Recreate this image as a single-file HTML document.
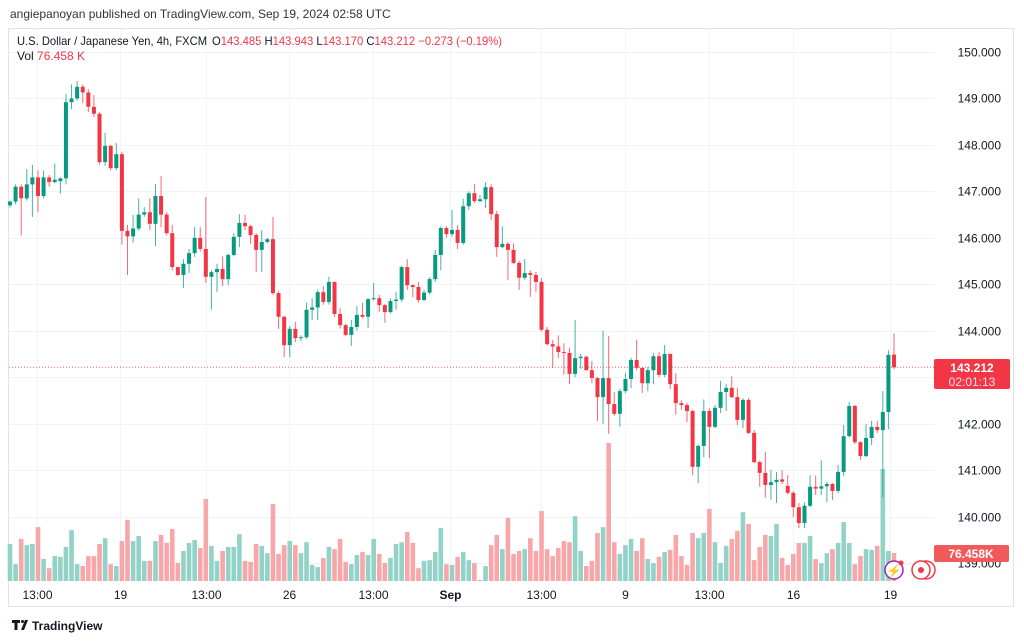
<!DOCTYPE html>
<html><head><meta charset="utf-8"><style>
html,body{margin:0;padding:0;background:#fff;width:1024px;height:641px;overflow:hidden;font-family:"Liberation Sans",sans-serif}
svg{display:block}
</style></head><body>
<svg id="chart" width="1024" height="641" viewBox="0 0 1024 641" xmlns="http://www.w3.org/2000/svg" font-family="Liberation Sans, sans-serif">
  <text x="10" y="18" font-size="12" fill="#333">angiepanoyan published on TradingView.com, Sep 19, 2024 02:58 UTC</text>
  <rect x="8.5" y="28.5" width="1005" height="578" fill="none" stroke="#e0e3eb"/>
  <g id="grid"></g>
  <g id="vol"></g>
  <g id="candles"></g>
  <g id="axes"></g>
  <g font-size="12">
    <text x="17" y="45" fill="#131722" textLength="190" lengthAdjust="spacingAndGlyphs">U.S. Dollar / Japanese Yen, 4h, FXCM</text>
    <text x="212" y="45" fill="#f23645" textLength="290" lengthAdjust="spacingAndGlyphs"><tspan fill="#131722">O</tspan>143.485  <tspan fill="#131722">H</tspan>143.943  <tspan fill="#131722">L</tspan>143.170  <tspan fill="#131722">C</tspan>143.212  −0.273 (−0.19%)</text>
    <text x="17" y="60" fill="#131722">Vol <tspan fill="#f23645">76.458 K</tspan></text>
  </g>
  <g>
    <rect x="934" y="359" width="76" height="30" rx="2" fill="#f23645"/>
    <text x="972" y="372" font-size="12" fill="#fff" text-anchor="middle" font-weight="bold">143.212</text>
    <text x="972" y="386" font-size="12" fill="#fde" text-anchor="middle">02:01:13</text>
  </g>
  <g>
    <rect x="934" y="545" width="75" height="17" rx="2" fill="#f05a5a"/>
    <text x="971" y="558" font-size="12" fill="#fff" text-anchor="middle" font-weight="bold">76.458K</text>
  </g>
  <g>
    <circle cx="894" cy="570" r="9" fill="#fff" stroke="#9c27b0" stroke-width="1.5"/>
    <text x="894" y="575" font-size="12" fill="#9c27b0" text-anchor="middle">⚡</text>
    <circle cx="901" cy="563" r="2.5" fill="#f23645"/>
  </g>
  <g>
    <circle cx="926" cy="570" r="9" fill="#fff" stroke="#f23645" stroke-width="1.5"/>
    <circle cx="921" cy="570" r="9" fill="#fff" stroke="#f23645" stroke-width="1.5"/>
    <circle cx="921" cy="570" r="3" fill="#f23645"/>
  </g>
  <g>
    <path d="M12 620h8v3h-2.5v7h-3v-7H12z M21 630l4-10h3l-4 10z" fill="#131722"/>
    <circle cx="22.5" cy="621.5" r="1.5" fill="#131722"/>
    <text x="32" y="630" font-size="12" font-weight="bold" fill="#131722">TradingView</text>
  </g>
</svg>
<script>
var opens=[146.70,146.78,147.10,146.85,147.15,147.30,146.90,147.30,147.20,147.22,147.28,148.92,149.00,149.25,149.13,148.82,148.67,147.63,147.98,147.50,147.80,146.15,146.03,146.20,146.50,146.55,146.30,146.90,146.50,146.10,145.37,145.20,145.44,145.67,146.00,145.76,145.16,145.26,145.33,145.11,145.63,146.02,146.32,146.25,146.06,145.74,145.91,145.97,144.81,144.30,143.69,144.04,143.84,143.86,144.45,144.50,144.83,144.62,145.05,144.36,144.12,143.91,144.08,144.34,144.30,144.68,144.70,144.55,144.40,144.64,144.67,145.37,144.98,144.94,144.66,144.82,145.11,145.63,146.21,146.08,146.17,145.89,146.68,146.96,146.79,146.83,147.09,146.51,145.80,145.87,145.74,145.46,145.14,145.24,145.20,145.05,144.02,143.71,143.66,143.54,143.52,143.07,143.41,143.44,143.15,142.98,142.57,142.98,142.42,142.21,142.70,142.96,143.37,143.20,142.87,143.15,143.45,143.05,143.50,142.85,142.44,142.40,142.27,141.07,141.52,142.27,141.93,142.34,142.68,142.77,142.57,142.08,142.51,141.80,141.17,140.94,140.68,140.74,140.80,140.66,140.51,140.20,139.86,140.23,140.64,140.60,140.65,140.70,140.55,140.96,141.73,142.38,141.60,141.30,141.69,141.93,141.86,142.25,143.485];
var highs=[146.80,147.15,147.15,147.48,147.57,147.45,147.45,147.35,147.60,147.30,149.10,149.30,149.38,149.30,149.20,149.07,148.70,148.26,148.00,148.04,147.85,146.28,146.49,146.85,146.66,146.85,147.16,147.33,146.55,146.28,145.37,145.54,145.76,146.23,146.23,146.88,145.30,145.44,145.60,145.66,146.10,146.51,146.50,146.28,146.10,146.17,146.00,146.45,144.85,144.32,144.10,144.19,143.90,144.60,144.70,144.88,144.96,145.16,145.06,144.49,144.15,144.23,144.53,144.60,144.70,145.03,144.77,144.58,144.70,144.83,145.40,145.54,145.00,145.05,144.88,145.15,145.74,146.25,146.25,146.60,146.27,146.84,147.00,147.16,146.92,147.20,147.15,146.58,146.25,145.91,145.88,145.50,145.54,145.30,145.26,145.13,144.08,143.80,143.90,143.73,143.63,144.23,143.50,143.46,143.35,143.00,144.00,143.89,142.68,142.75,143.09,143.42,143.80,143.20,143.22,143.52,143.54,143.69,143.50,143.09,142.50,142.45,142.30,141.55,142.52,142.33,142.40,142.92,142.85,143.02,142.77,142.55,142.55,141.86,141.20,141.39,141.00,140.96,141.00,140.89,140.55,140.29,140.30,140.89,140.88,141.21,140.75,140.72,141.11,141.97,142.47,142.40,141.62,141.99,142.06,142.06,142.70,143.58,143.943];
var lows=[146.65,146.72,146.05,146.80,146.45,146.55,146.85,147.10,147.18,146.95,147.15,148.77,148.95,148.90,148.71,148.60,147.58,147.55,147.45,147.45,145.85,145.20,145.90,146.15,146.45,146.17,145.82,146.23,146.05,145.30,145.18,144.92,145.24,145.59,145.70,145.03,144.45,144.83,144.96,144.98,145.60,145.80,146.17,145.87,145.26,145.26,145.88,144.77,144.04,143.43,143.43,143.75,143.78,143.82,144.23,144.23,144.56,144.56,144.30,144.05,143.88,143.67,144.00,144.27,144.06,144.65,144.40,144.17,144.37,144.45,144.62,144.88,144.72,144.60,144.64,144.78,145.05,145.30,146.00,146.02,145.76,145.85,146.60,146.75,146.77,146.64,146.38,145.59,145.78,145.09,145.43,144.88,145.10,144.73,144.84,143.98,143.68,143.20,143.41,143.05,142.85,143.00,143.18,143.14,142.87,142.06,141.99,141.78,142.17,141.93,142.65,142.77,143.15,142.66,142.70,142.85,143.00,143.00,142.74,142.19,142.30,142.03,140.89,140.72,141.28,141.26,141.90,142.23,142.27,142.55,141.97,141.90,141.78,141.15,140.64,140.40,140.36,140.29,140.70,140.48,139.99,139.75,139.75,140.20,140.46,140.46,140.31,140.36,140.50,140.87,141.70,141.56,141.22,141.28,141.54,141.80,140.42,141.88,143.170];
var closes=[146.78,147.10,146.85,147.15,147.30,146.90,147.30,147.20,147.25,147.28,148.92,149.00,149.25,149.13,148.82,148.67,147.63,147.98,147.50,147.80,146.15,146.03,146.20,146.50,146.55,146.30,146.90,146.50,146.10,145.37,145.20,145.44,145.67,146.00,145.76,145.16,145.26,145.33,145.11,145.63,146.02,146.32,146.25,146.06,145.74,145.91,145.97,144.81,144.30,143.69,144.04,143.84,143.86,144.45,144.50,144.83,144.62,145.05,144.36,144.12,143.91,144.08,144.34,144.30,144.68,144.70,144.55,144.40,144.64,144.67,145.37,144.98,144.94,144.66,144.82,145.11,145.63,146.21,146.08,146.17,145.89,146.68,146.96,146.79,146.83,147.09,146.51,145.80,145.87,145.74,145.46,145.14,145.24,145.20,145.05,144.02,143.71,143.66,143.54,143.52,143.07,143.41,143.44,143.15,142.98,142.57,142.98,142.42,142.21,142.70,142.96,143.37,143.20,142.87,143.15,143.45,143.05,143.50,142.85,142.44,142.40,142.27,141.07,141.52,142.27,141.93,142.34,142.68,142.77,142.57,142.08,142.51,141.80,141.17,140.94,140.68,140.74,140.79,140.75,140.51,140.20,139.86,140.23,140.64,140.60,140.65,140.70,140.55,140.96,141.73,142.38,141.60,141.30,141.69,141.93,141.86,142.25,143.48,143.212];
var volumesK=[101,46,115,98,101,147,60,35,68,66,93,139,46,41,68,68,101,117,46,41,109,167,109,123,55,55,109,126,104,142,49,82,104,112,90,224,96,55,82,93,93,128,55,52,101,96,76,210,74,98,109,98,76,106,44,38,63,93,87,115,52,46,71,79,71,115,74,49,63,101,106,134,104,35,55,57,79,145,46,44,66,79,57,49,3,41,98,126,87,172,74,82,87,117,82,191,87,68,90,109,106,177,82,41,55,131,147,377,106,74,98,115,82,117,60,49,66,79,85,126,68,44,131,117,131,197,106,49,96,115,137,188,156,57,93,126,123,156,63,44,74,104,104,123,60,49,76,87,104,161,104,46,68,87,85,96,306,82,76.458];
var priceTicks=[150,149,148,147,146,145,144,143,142,141,140,139];
var timeLabels=["13:00","19","13:00","26","13:00","Sep","13:00","9","13:00","16","19"];
var timeLabelIdx=[4.8,19.6,35,49.9,64.9,78.6,94.9,109.9,124.9,139.9,157.2];
var lastPrice=143.212;

var NS="http://www.w3.org/2000/svg";
function yP(p){return 52+(150-p)*46.45;}
function xI(i){return 10+5.595*i;}
function yV(v){return 581-v/76.458*28;}
function mk(tag,attrs,parent){var e=document.createElementNS(NS,tag);for(var k in attrs)e.setAttribute(k,attrs[k]);parent.appendChild(e);return e;}
var grid=document.getElementById('grid'),vol=document.getElementById('vol'),cg=document.getElementById('candles'),ax=document.getElementById('axes');
priceTicks.forEach(function(p){
  var y=Math.round(yP(p))+0.5;
  var l=mk('line',{x1:9,x2:935,y1:y,y2:y,stroke:'#f0f3fa'},grid);
  
  
  var t=mk('text',{x:1001,y:y+4,'font-size':12,fill:'#131722','text-anchor':'end'},ax);
  t.textContent=p.toFixed(3);
  
  
});
timeLabels.forEach(function(s,k){
  var x=Math.round(xI(timeLabelIdx[k]))+0.5;
  var l=mk('line',{x1:x,x2:x,y1:29,y2:583,stroke:'#f0f3fa'},grid);
  
  
  var t=mk('text',{x:x,y:599,'font-size':12,fill:'#131722','text-anchor':'middle','font-weight':s==='Sep'?'bold':'normal'},ax);
  t.textContent=s;
  
  
});
var ly=yP(lastPrice);
var dl=mk('line',{x1:9,x2:934,y1:ly,y2:ly,stroke:'#f23645','stroke-width':1,'stroke-dasharray':'1 2',opacity:0.8},grid);


(function(){
for(var i=0;i<closes.length;i++){
  var up=closes[i]>=opens[i];
  var x=xI(i);
  var vb=mk('rect',{x:x-2.3,y:yV(volumesK[i]),width:4.6,height:581-yV(volumesK[i]),fill:up?'#92d2c7':'#f7a7aa'},vol);
  
  
  var col=up?'#089981':'#f23645';
  var w=mk('line',{x1:x,x2:x,y1:yP(highs[i]),y2:yP(lows[i]),stroke:col,'stroke-width':1,opacity:0.75},cg);
  
  
  var bTop=yP(Math.max(opens[i],closes[i])),bBot=yP(Math.min(opens[i],closes[i]));
  var b=mk('rect',{x:x-2,y:bTop,width:4,height:Math.max(1,bBot-bTop),fill:col},cg);
  
  
}
})();
</script>
</body></html>
